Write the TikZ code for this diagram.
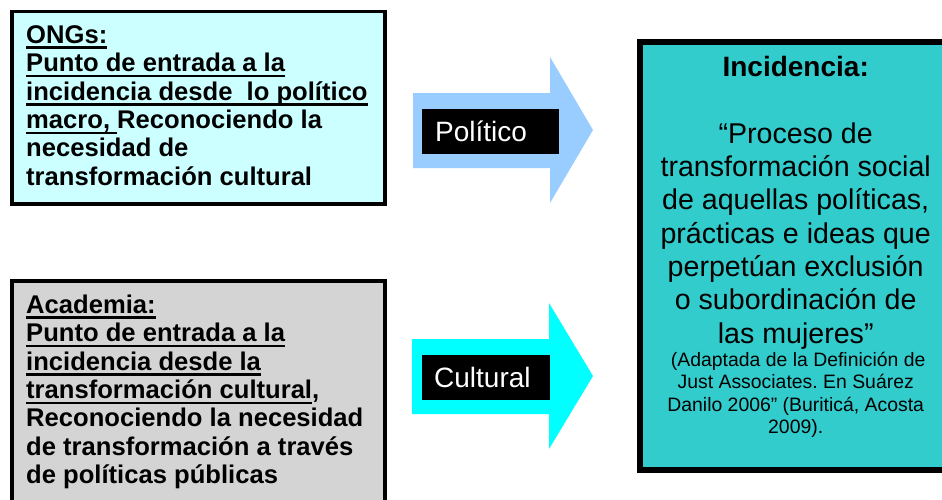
\documentclass[tikz,border=0pt]{standalone}
\usepackage{fontspec}
\setmainfont{Liberation Sans}
\frenchspacing
\definecolor{ongfill}{HTML}{CCFFFF}
\definecolor{acafill}{HTML}{D4D4D4}
\definecolor{incfill}{HTML}{33CCCC}
\definecolor{polarrow}{HTML}{99CCFF}
\definecolor{cularrow}{HTML}{00FFFF}
\newcommand{\myul}[1]{\setbox0=\hbox{#1}\rlap{\rule[-5.6pt]{\wd0}{2.6pt}}\box0}
\tikzset{
  boxframe/.style={draw=black, line width=3.6pt, inner sep=0pt, outer sep=0pt, anchor=north west},
  lefttext/.style={anchor=base west, inner sep=0pt, font=\bfseries\fontsize{25.6}{28.4}\selectfont},
  tagbox/.style={fill=black, inner sep=0pt, outer sep=0pt, anchor=north west},
  tagtext/.style={anchor=base west, inner sep=0pt, text=white, font=\fontsize{28}{33}\selectfont},
  ctext/.style={anchor=base west, inner sep=0pt}
}
\begin{document}
\begin{tikzpicture}[x=1pt,y=-1pt]
\useasboundingbox (0,0) rectangle (942,499);
\clip (0,0) rectangle (942,499);
% left boxes
\node[boxframe, fill=ongfill, minimum width=373pt, minimum height=192.7pt] (ong) at (12,11.3) {};
\node[boxframe, fill=acafill, minimum width=373pt, minimum height=240pt] (aca) at (11.7,281) {};
% right box
\node[boxframe, line width=6pt, fill=incfill, minimum width=320pt, minimum height=428pt] (inc) at (640,42) {};
% arrows
\fill[polarrow] (413,93) -- (550,93) -- (550,57) -- (593,130) -- (550,203) -- (550,168) -- (413,168) -- cycle;
\fill[cularrow] (412,339) -- (549,339) -- (549,303) -- (593,376) -- (549,449) -- (549,414) -- (412,414) -- cycle;
% tags
\node[tagbox, minimum width=137pt, minimum height=45pt] (poltag) at (422,109) {};
\node[tagtext] (poltext) at (435,141.7) {Político};
\node[tagbox, minimum width=128pt, minimum height=45pt] (cultag) at (422,355) {};
\node[tagtext] (cultext) at (434,387.7) {Cultural};
% left texts
\node[lefttext] (ongtext) at (26,43.3) {\vtop{%
  \hbox{\myul{ONGs:}}
  \hbox{\myul{Punto de entrada a la}}
  \hbox{\myul{incidencia desde\ \ lo político}}
  \hbox{\myul{macro,\ }Reconociendo la}
  \hbox{necesidad de}
  \hbox{transformación cultural}}};
\node[lefttext] (acatext) at (26,313.3) {\vtop{%
  \hbox{\myul{Academia:}}
  \hbox{\myul{Punto de entrada a la}}
  \hbox{\myul{incidencia desde la}}
  \hbox{\myul{transformación cultural},}
  \hbox{Reconociendo la necesidad}
  \hbox{de transformación a través}
  \hbox{de políticas públicas}}};
% right texts
\node[ctext, font=\bfseries\fontsize{28}{33}\selectfont] (inctitle) at (795,76) {\hbox to 0pt{\hss Incidencia:\hss}};
\node[ctext, font=\fontsize{28.6}{33.3}\selectfont] (quote) at (795,143.3) {\vtop{%
  \hbox to 0pt{\hss “Proceso de\hss}
  \hbox to 0pt{\hss transformación social\hss}
  \hbox to 0pt{\hss de aquellas políticas,\hss}
  \hbox to 0pt{\hss prácticas e ideas que\hss}
  \hbox to 0pt{\hss perpetúan exclusión\hss}
  \hbox to 0pt{\hss o subordinación de\hss}
  \hbox to 0pt{\hss las mujeres”\hss}}};
\node[ctext, font=\fontsize{19.4}{22.2}\selectfont] (cite) at (795,366.7) {\vtop{%
  \hbox to 0pt{\hss\kern 5pt (Adaptada de la Definición de\hss}
  \hbox to 0pt{\hss Just Associates. En Suárez\hss}
  \hbox to 0pt{\hss Danilo 2006” (Buriticá, Acosta\hss}
  \hbox to 0pt{\hss 2009).\hss}}};
\end{tikzpicture}
\end{document}
